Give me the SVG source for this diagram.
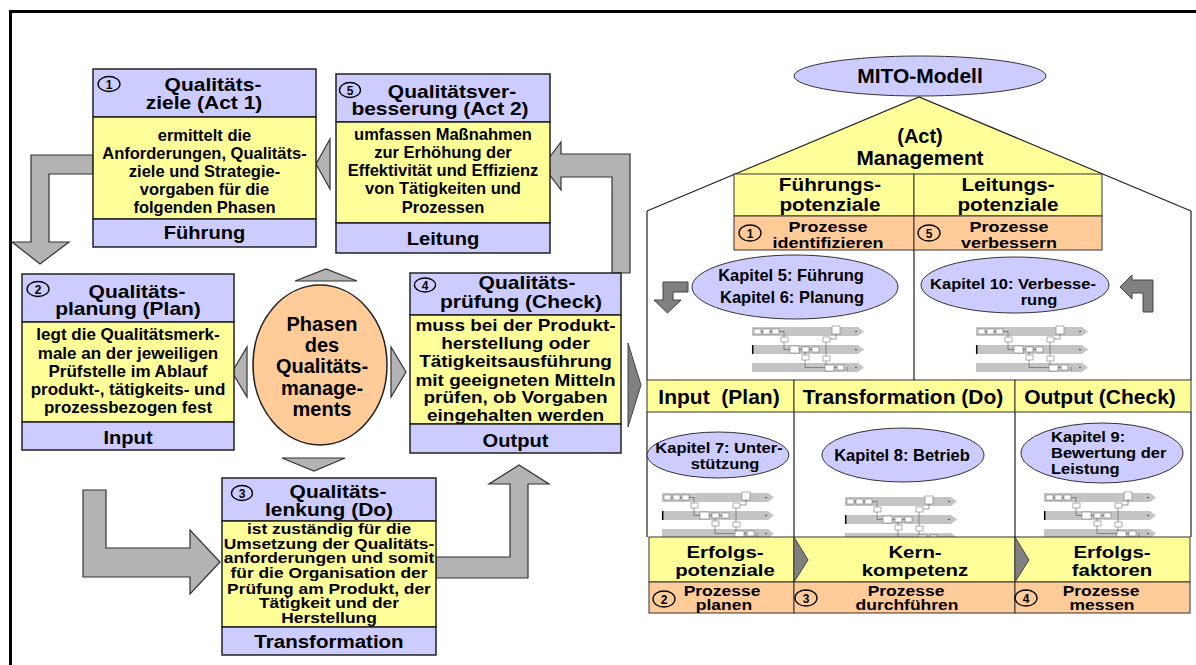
<svg xmlns="http://www.w3.org/2000/svg" xmlns:xlink="http://www.w3.org/1999/xlink" width="1196" height="665" viewBox="0 0 1196 665">
<style>
.t{font-family:"Liberation Sans",Arial,Helvetica,sans-serif;font-weight:bold;fill:#000;text-anchor:middle}
.h{font-size:17.5px}
.p{font-size:20px}
.b{font-size:16.5px}
.f{font-size:19px}
.n{font-size:12px}
.k{font-size:16.5px}
.ks{font-size:15px}
.lav{fill:#CCCCFF;stroke:#222;stroke-width:1.5}
.yel{fill:#FFFF99;stroke:#222;stroke-width:1.5}
.org{fill:#FFCC99;stroke:#222;stroke-width:1.5}
.hl{fill:#FFFF99;stroke:#333;stroke-width:1}
.ho{fill:#FFCC99;stroke:#333;stroke-width:1}
.hv{fill:#CCCCFF;stroke:#333;stroke-width:1}
.num{fill:none;stroke:#000;stroke-width:1.3}
.ga{fill:#B3B3B3;stroke:#333;stroke-width:1.2}
.da{fill:#808080;stroke:#444;stroke-width:1}
.ln{stroke:#222;stroke-width:1.2;fill:none}
.lane{fill:#C4C4C4}
.pb{fill:#fff;stroke:#777;stroke-width:0.6}
.pc{fill:none;stroke:#555;stroke-width:0.6}
</style>
<defs>
<g id="proc">
<polygon class="lane" points="0,0 106,0 112,4.5 106,9 0,9"/>
<polygon class="lane" points="0,18 106,18 112,22.5 106,27 0,27"/>
<polygon class="lane" points="0,36 106,36 112,40.5 106,45 0,45"/>
<line x1="0.7" y1="18" x2="0.7" y2="27" stroke="#000" stroke-width="1.5"/>
<rect class="pb" x="2" y="2" width="7" height="5"/>
<rect class="pb" x="11" y="2" width="7" height="5"/>
<rect class="pb" x="20" y="2" width="7" height="5"/>
<rect class="pb" x="80" y="-1" width="8" height="8"/>
<rect class="pb" x="29" y="10" width="7" height="5"/>
<rect class="pb" x="71" y="10" width="7" height="5"/>
<rect class="pb" x="38" y="19" width="9" height="7"/>
<rect class="pb" x="50" y="20" width="7" height="5"/>
<rect class="pb" x="60" y="20" width="7" height="5"/>
<rect class="pb" x="50" y="28" width="7" height="5"/>
<rect class="pb" x="71" y="29" width="7" height="5"/>
<rect class="pb" x="73" y="38" width="9" height="6"/>
<rect class="pb" x="85" y="38" width="7" height="5"/>
<path class="pc" d="M9,4.5H11M18,4.5H20M27,4.5H32V10M32,15V22.5H38M47,22.5H50M57,22.5H60M53,25V28M53,33V40.5H73M82,40.5H85M84,7V12H78M74,15V22.5M74,22.5V29M74,34V38M95,40V44"/>
<circle cx="104" cy="4.5" r="0.8" fill="#333"/>
<circle cx="104" cy="22.5" r="0.8" fill="#333"/>
<circle cx="104" cy="40.5" r="0.8" fill="#333"/>
</g>
</defs>

<rect x="0" y="0" width="1196" height="665" fill="#fff"/>
<path d="M10.5,665V11.5H1196" fill="none" stroke="#000" stroke-width="3"/>

<g id="connectors">
<polygon class="ga" points="93,155 31,155 31,242 12,242 40,264 69,242 49,242 49,174 93,174"/>
<polygon class="ga" points="612,273 612,177 561,177 561,190 543,166 561,142 561,154 630,154 630,273"/>
<polygon class="ga" points="316,164 330,139 330,189"/>
<polygon class="ga" points="83,490 106,490 106,548 190,548 190,530 220,562 190,594 190,577 83,577"/>
<polygon class="ga" points="436,557 510,557 510,484 489,484 519,465 549,484 528,484 528,578 436,578"/>
<polygon class="ga" points="295,281 326,269 357,281"/>
<polygon class="ga" points="282,458 345,458 314,471"/>
<polygon class="ga" points="232,372 247,347 247,397"/>
<polygon class="ga" points="391,347 406,372 391,397"/>
<polygon class="da" points="628,343 641,385 628,427"/>
<polygon class="da" points="688,282 663,282 663,300 654,300 667.5,313 681,300 673,300 673,292 688,292"/>
<polygon class="da" points="1153,312 1153,280 1132,280 1132,275 1120,287 1132,299 1132,293 1143,293 1143,312"/>
</g>

<g id="box1">
<rect class="lav" x="93" y="69" width="223" height="48"/>
<rect class="yel" x="93" y="117" width="223" height="102"/>
<rect class="lav" x="93" y="219" width="223" height="28"/>
<ellipse class="num" cx="109" cy="84" rx="11" ry="7.5"/>
<text class="t n" x="109" y="88.5">1</text>
<text class="t h" transform="translate(213,91) scale(1.2,1)">Qualitäts-</text>
<text class="t h" transform="translate(204,109) scale(1.2,1)">ziele (Act 1)</text>
<text class="t b" x="204.5" y="141">ermittelt die</text>
<text class="t b" x="204.5" y="159">Anforderungen, Qualitäts-</text>
<text class="t b" x="204.5" y="177">ziele und Strategie-</text>
<text class="t b" x="204.5" y="195">vorgaben für die</text>
<text class="t b" x="204.5" y="213">folgenden Phasen</text>
<text class="t f" transform="translate(204.5,239) scale(1.06,1)">Führung</text>
</g>

<g id="box5">
<rect class="lav" x="336" y="74" width="214" height="48"/>
<rect class="yel" x="336" y="122" width="214" height="101"/>
<rect class="lav" x="336" y="223" width="214" height="30"/>
<ellipse class="num" cx="350" cy="90" rx="10.5" ry="7.5"/>
<text class="t n" x="350" y="94.5">5</text>
<text class="t h" transform="translate(452,98) scale(1.2,1)">Qualitätsver-</text>
<text class="t h" transform="translate(440,115) scale(1.2,1)">besserung (Act 2)</text>
<text class="t b" x="443" y="140">umfassen Maßnahmen</text>
<text class="t b" x="443" y="158">zur Erhöhung der</text>
<text class="t b" x="443" y="176">Effektivität und Effizienz</text>
<text class="t b" x="443" y="194">von Tätigkeiten und</text>
<text class="t b" x="443" y="213">Prozessen</text>
<text class="t f" transform="translate(443,245) scale(1.06,1)">Leitung</text>
</g>

<g id="box2">
<rect class="lav" x="22" y="274" width="212" height="48"/>
<rect class="yel" x="22" y="322" width="212" height="100"/>
<rect class="lav" x="22" y="422" width="212" height="28"/>
<ellipse class="num" cx="38" cy="289" rx="11" ry="7.5"/>
<text class="t n" x="38" y="293.5">2</text>
<text class="t h" transform="translate(137,298) scale(1.2,1)">Qualitäts-</text>
<text class="t h" transform="translate(128,315) scale(1.2,1)">planung (Plan)</text>
<text class="t b" style="font-size:17px" x="128" y="340">legt die Qualitätsmerk-</text>
<text class="t b" style="font-size:17px" x="128" y="359">male an der jeweiligen</text>
<text class="t b" style="font-size:17px" x="128" y="377">Prüfstelle im Ablauf</text>
<text class="t b" style="font-size:17px" x="128" y="395">produkt-, tätigkeits- und</text>
<text class="t b" style="font-size:17px" x="128" y="413">prozessbezogen fest</text>
<text class="t f" transform="translate(128,444) scale(1.06,1)">Input</text>
</g>

<g id="box4">
<rect class="lav" x="410" y="273" width="211" height="42"/>
<rect class="yel" x="410" y="315" width="211" height="109"/>
<rect class="lav" x="410" y="424" width="211" height="29"/>
<ellipse class="num" cx="425" cy="285" rx="10.5" ry="7"/>
<text class="t n" x="425" y="289.5">4</text>
<text class="t h" transform="translate(527,289) scale(1.2,1)">Qualitäts-</text>
<text class="t h" transform="translate(521,308) scale(1.2,1)">prüfung (Check)</text>
<g transform="matrix(1.15 0 0 1 -77.3 0)">
<text class="t b" x="515.5" y="331">muss bei der Produkt-</text>
<text class="t b" x="515.5" y="349">herstellung oder</text>
<text class="t b" x="515.5" y="367">Tätigkeitsausführung</text>
<text class="t b" x="515.5" y="386">mit geeigneten Mitteln</text>
<text class="t b" x="515.5" y="403">prüfen, ob Vorgaben</text>
<text class="t b" x="515.5" y="421">eingehalten werden</text>
</g>
<text class="t f" transform="translate(515.5,447) scale(1.06,1)">Output</text>
</g>

<g id="box3">
<rect class="lav" x="222" y="478" width="214" height="43"/>
<rect class="yel" x="222" y="521" width="214" height="106"/>
<rect class="lav" x="222" y="627" width="214" height="28"/>
<ellipse class="num" cx="242" cy="493" rx="10.5" ry="7.5"/>
<text class="t n" x="242" y="497.5">3</text>
<text class="t h" transform="translate(338,498) scale(1.2,1)">Qualitäts-</text>
<text class="t h" transform="translate(329,516) scale(1.2,1)">lenkung (Do)</text>
<g transform="matrix(1.2 0 0 1 -65.8 0)">
<text class="t" style="font-size:14.5px" x="329" y="534">ist zuständig für die</text>
<text class="t" style="font-size:14.5px" x="329" y="549">Umsetzung der Qualitäts-</text>
<text class="t" style="font-size:14.5px" x="329" y="563">anforderungen und somit</text>
<text class="t" style="font-size:14.5px" x="329" y="578">für die Organisation der</text>
<text class="t" style="font-size:14.5px" x="329" y="594">Prüfung am Produkt, der</text>
<text class="t" style="font-size:14.5px" x="329" y="608">Tätigkeit und der</text>
<text class="t" style="font-size:14.5px" x="329" y="623">Herstellung</text>
</g>
<text class="t f" transform="translate(329,648) scale(1.08,1)">Transformation</text>
</g>

<g id="phasen">
<ellipse class="org" cx="320" cy="365" rx="67" ry="80"/>
<text class="t p" x="322" y="331">Phasen</text>
<text class="t p" x="322" y="352">des</text>
<text class="t p" x="322" y="373">Qualitäts-</text>
<text class="t p" x="322" y="395">manage-</text>
<text class="t p" x="322" y="416">ments</text>
</g>

<g id="house">
<polygon points="919,97 734,174 1102,174" fill="#FFFF99"/>
<path class="ln" d="M647,211L919,97L1191,211"/>
<path class="ln" d="M647,211V380M1191,211V380M914,250V380M647,412V537M1191,412V537M794,412V537M1015,412V537"/>
</g>

<g id="mito">
<ellipse class="hv" cx="920" cy="76" rx="126" ry="20"/>
<text class="t p" transform="translate(920,83) scale(1.05,1)">MITO-Modell</text>
</g>

<g id="management">
<text class="t p" x="920" y="143">(Act)</text>
<text class="t p" transform="translate(920,165) scale(1.04,1)">Management</text>
</g>

<g id="potenziale">
<rect class="hl" x="734" y="174" width="180" height="42"/>
<rect class="hl" x="914" y="174" width="188" height="42"/>
<text class="t" style="font-size:18.5px" transform="translate(830,191) scale(1.12,1)">Führungs-</text>
<text class="t" style="font-size:18.5px" transform="translate(830,211) scale(1.12,1)">potenziale</text>
<text class="t" style="font-size:18.5px" transform="translate(1008,191) scale(1.12,1)">Leitungs-</text>
<text class="t" style="font-size:18.5px" transform="translate(1008,211) scale(1.12,1)">potenziale</text>
</g>

<g id="prozesse-top">
<rect class="ho" x="734" y="216" width="180" height="34"/>
<rect class="ho" x="914" y="216" width="188" height="34"/>
<ellipse class="num" cx="750" cy="233" rx="11" ry="8"/>
<text class="t n" x="750" y="237.5">1</text>
<text class="t ks" transform="translate(828,232) scale(1.2,1)">Prozesse</text>
<text class="t ks" transform="translate(828,248) scale(1.2,1)">identifizieren</text>
<ellipse class="num" cx="929" cy="233" rx="11" ry="8"/>
<text class="t n" x="929" y="237.5">5</text>
<text class="t ks" transform="translate(1009,232) scale(1.2,1)">Prozesse</text>
<text class="t ks" transform="translate(1009,248) scale(1.2,1)">verbessern</text>
</g>

<g id="kapitel56">
<ellipse class="hv" cx="795" cy="287" rx="103" ry="32"/>
<text class="t k" x="791" y="281">Kapitel 5: Führung</text>
<text class="t k" x="792" y="303">Kapitel 6: Planung</text>
</g>
<g id="kapitel10">
<ellipse class="hv" cx="1015" cy="285" rx="94" ry="28"/>
<text class="t ks" transform="translate(1013,289) scale(1.1,1)">Kapitel 10: Verbesse-</text>
<text class="t ks" transform="translate(1039,305) scale(1.1,1)">rung</text>
</g>

<g id="procs">
<use xlink:href="#proc" x="752" y="327"/>
<use xlink:href="#proc" x="976" y="327"/>
<use xlink:href="#proc" x="662" y="493"/>
<use xlink:href="#proc" x="845" y="497"/>
<use xlink:href="#proc" x="1044" y="493"/>
</g>

<g id="phasenzeile">
<rect class="hl" x="647" y="380" width="147" height="32"/>
<rect class="hl" x="794" y="380" width="221" height="32"/>
<rect class="hl" x="1015" y="380" width="176" height="32"/>
<text class="t" style="font-size:21px" xml:space="preserve" x="719" y="404">Input  (Plan)</text>
<text class="t" style="font-size:21px" x="903" y="404">Transformation (Do)</text>
<text class="t" style="font-size:21px" x="1100" y="404">Output (Check)</text>
</g>

<g id="kapitel7">
<ellipse class="hv" cx="718" cy="455" rx="71" ry="23"/>
<text class="t ks" transform="translate(719,453) scale(1.1,1)">Kapitel 7: Unter-</text>
<text class="t ks" transform="translate(725,469) scale(1.1,1)">stützung</text>
</g>
<g id="kapitel8">
<ellipse class="hv" cx="903" cy="455" rx="81" ry="27"/>
<text class="t k" x="902" y="461">Kapitel 8: Betrieb</text>
</g>
<g id="kapitel9">
<ellipse class="hv" cx="1102" cy="453" rx="81" ry="30"/>
<text class="t ks" style="text-anchor:start" transform="translate(1051,442) scale(1.1,1)">Kapitel 9:</text>
<text class="t ks" style="text-anchor:start" transform="translate(1051,458) scale(1.1,1)">Bewertung der</text>
<text class="t ks" style="text-anchor:start" transform="translate(1051,474) scale(1.1,1)">Leistung</text>
</g>

<g id="erfolg">
<rect class="hl" x="649" y="537" width="145" height="45"/>
<rect class="hl" x="794" y="537" width="221" height="45"/>
<rect class="hl" x="1015" y="537" width="175" height="45"/>
<polygon class="da" points="794,537 808,560 794,582"/>
<polygon class="da" points="1015,537 1029,560 1015,582"/>
<text class="t" style="font-size:17px" transform="translate(725,558) scale(1.2,1)">Erfolgs-</text>
<text class="t" style="font-size:17px" transform="translate(725,576) scale(1.2,1)">potenziale</text>
<text class="t" style="font-size:17px" transform="translate(915,558) scale(1.2,1)">Kern-</text>
<text class="t" style="font-size:17px" transform="translate(915,576) scale(1.2,1)">kompetenz</text>
<text class="t" style="font-size:17px" transform="translate(1112,558) scale(1.2,1)">Erfolgs-</text>
<text class="t" style="font-size:17px" transform="translate(1112,576) scale(1.2,1)">faktoren</text>
</g>

<g id="prozesse-bottom">
<rect class="ho" x="649" y="582" width="145" height="31"/>
<rect class="ho" x="794" y="582" width="221" height="31"/>
<rect class="ho" x="1015" y="582" width="175" height="31"/>
<ellipse class="num" cx="664" cy="599" rx="11" ry="8"/>
<text class="t n" x="664" y="603.5">2</text>
<text class="t" style="font-size:14px" transform="translate(722,596) scale(1.25,1)">Prozesse</text>
<text class="t" style="font-size:14px" transform="translate(724,610) scale(1.25,1)">planen</text>
<ellipse class="num" cx="806" cy="598" rx="11" ry="8"/>
<text class="t n" x="806" y="602.5">3</text>
<text class="t" style="font-size:14px" transform="translate(906,596) scale(1.25,1)">Prozesse</text>
<text class="t" style="font-size:14px" transform="translate(907,610) scale(1.25,1)">durchführen</text>
<ellipse class="num" cx="1026" cy="598" rx="11" ry="8"/>
<text class="t n" x="1026" y="602.5">4</text>
<text class="t" style="font-size:14px" transform="translate(1101,596) scale(1.25,1)">Prozesse</text>
<text class="t" style="font-size:14px" transform="translate(1102,610) scale(1.25,1)">messen</text>
</g>
</svg>
